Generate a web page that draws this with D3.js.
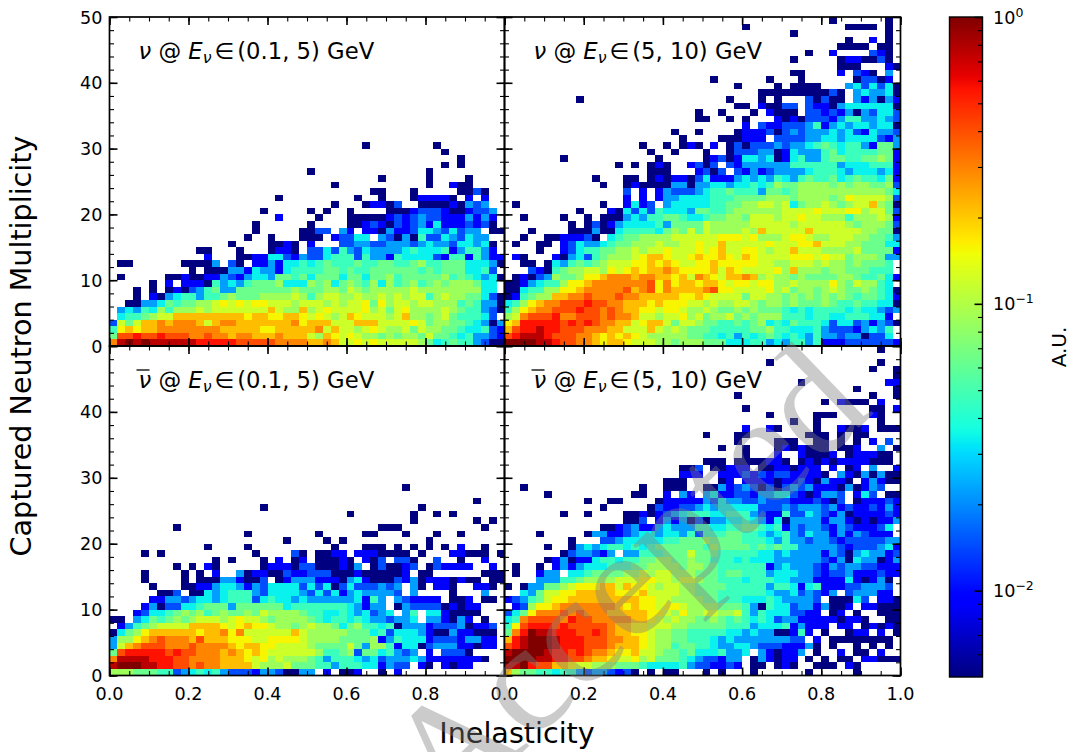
<!DOCTYPE html>
<html>
<head>
<meta charset="utf-8">
<script src="https://cdn.jsdelivr.net/npm/d3@7"></script>
<style>
body { margin: 0; background: #fff; }
text { font-family: "DejaVu Sans", sans-serif; fill: #000; }
</style>
</head>
<body>
<svg id="chart" width="1075" height="752"></svg>
<script>
// a cell is one character of a row: '.' is an empty bin, else an index into levelValues
const levelChars = '0123456789abcdef'
const levelValues = [.005, .009, .0145, .022, .034, .0463, .0637, .0875, .12, .157, .215, .296, .406, .558, .767, 1]

// rows go from multiplicity 0 upward, 50 inelasticity bins each (spaces only for reading)
const nuLow = [
  'befefeeeee edddddcccc cbbbbaaba8 8989888887 6456553200',
  '6ccdccdccc bbcbbabbaa abaaa87a98 9877676776 8665453321',
  '59a9aabbbb bbbbaaaaa9 9aaaaab8a8 8789877868 7766544521',
  '2868aababb ba8abbaaaa aaab9aaa88 8aaa888898 6776654303',
  '.4556788aa aaaaaaa9aa 99aa989878 a988878a77 678655542.',
  '.343547577 7878888888 a877a78988 8897868977 7787655320',
  '..00334656 6778989899 8887888787 8896978878 8777565330',
  '...0.10345 5355676667 7778757887 7877878788 5787766420',
  '...0.0.010 2356336666 6667666776 8767777787 777777744.',
  '.....0.1.1 1105343566 6744476746 7657475675 676777644.',
  '.0.....001 0011321344 3665646664 6646675666 6675654340',
  '.......... 0.00033143 3145555665 6556666665 656664452.',
  '.00......0 0003.20.11 3144545655 5655665567 5566644430',
  '.......... ..1...0011 4421322455 5253315444 4215515311',
  '.......... .00...0... 0110.22425 3243333454 445135531.',
  '.......... .....0.... 0010.1...2 2332233323 433244340.',
  '.......... .......0.. 0...000.12 244.320305 22432433..',
  '.......... ........0. ....0022.3 1.11031124 4324233.00',
  '.......... ........0. .....0.... 0012102123 141112120.',
  '.......... .......... .1....0... 0000012123 221113131.',
  '.......... .........0 .....0.0.. 0....00012 221001223.',
  '.......... .......... ........0. ..01102..0 00010323..',
  '.......... .......... .0........ .0..0...01 1110.1.1..',
  '.......... .......... .......... ...00...0. ....0020..',
  '.......... .......... ........0. .......... 0..100....',
  '.......... .......... .......... ....0..... 0....0....',
  '.......... .......... .....0.... .......... 0.........',
  '.......... .......... .......... .......... ..0.0.....',
  '.......... .......... .......... .......... ....0.....',
  '.......... .......... .......... .......... ..0.......',
  '.......... .......... .......... ..0....... .0........'
]
const nuHigh = [
  'ffffeedccb ba9aa98887 7677766644 4553435535 1112222221',
  'cdeeedcccb ba9a9a9877 7776655453 5456545435 332330224.',
  'acddeddccc bbbaa888a8 7876665555 5667554445 322213435.',
  '9adddddcdc dcbbaa89aa 8688766556 5674546555 4244231320',
  '78bcccdbbc ccbcbba887 8897867786 7677755545 544555441.',
  '579abbcccd ccbcbaa998 9987787667 6766654545 5554544323',
  '4579abbccc dccbbaaa9a 9998878778 8767767666 7655655440',
  '015677aabb cbbbcbbaaa aa99a98888 6887767676 7676566541',
  '004557799a bbbbbcabc9 baaaabc998 8889786776 7876676540',
  '0013455799 abbbbbbbc9 b9aa9aa989 9899778777 797687754.',
  '.010237667 99abbbabba a9a8ba98aa ba78776766 6677655641',
  '...2105677 887989a9aa ba9999a8a9 888897a777 677666555.',
  '..00.04356 56788899a9 a98899a999 9988778887 877676665.',
  '.10...1034 25677789aa 9889a99a98 a988889998 9886777633',
  '....0..124 5566778788 9888989a88 998788a888 7777866661',
  '.0..00.124 3345667778 7788988a88 888988899a 8887766644',
  '..0..00111 20.4566777 7888888999 8977789987 7888776653',
  '...0....00 0300455554 6768687777 87a88888a8 8888877660',
  '........0. 0201344445 3666687777 7888887888 8887677762',
  '..0....0.. 0.00034355 6654456677 6888788988 7775777871',
  '.........0 ...1042425 4443665567 7777788889 8889978862',
  '.0........ ..0..1412. 3444445566 7788784677 876788a760',
  '.......... .....1.1.1 3344445556 6667776777 7679888872',
  '.......... .....2.1.1 3222345565 5536656777 7777777764',
  '.......... ..0..01000 0330334434 4545766777 7676776672',
  '.......... .0...00.01 0110241113 4343543565 5645655461',
  '.......... ........00 0...1202.2 1312333345 5543444341',
  '.......... ....0.0.01 0..1202.21 3333335555 5534445551',
  '.......0.. .........0 .....01201 4434014533 5665566761',
  '.......... ........0. .0...0..02 2233014333 5645555661',
  '.......... .......0.. 0.010.1.02 0222323345 6545531663',
  '.......... .......... ..0....000 111.222233 4434444213',
  '.......... .......... .0..0....0 1112023233 3434214332',
  '.......... .......... .......... 1.21122235 1343443440',
  '.......... .......... ....00..0. 0...101022 2135533432',
  '.......... .......... ....0..0.. .0.1000.22 1213032442',
  '.......... .......... .........0 0.10022.21 1034444440',
  '.........0 .......... ........0. ..0.0...20 200.313031',
  '.......... .......... .......... ..00000000 020.343340',
  '.......... .......... .........0 ....0.0000 ...3424240',
  '.......... .......... ......0... ...0...0.. ....02201.',
  '.......... .......... .......... ......00.. ..1.210.3.',
  '.......... .......... .......... .......... ..000...10',
  '.......... .......... .......... ......0... ..0110020.',
  '.......... .......... .......... ........0. .1....210.',
  '.......... .......... .......... .......... ..0000.00.',
  '.......... .......... .......... .......... ...0..1.0.',
  '.......... .......... .......... ......0... ........0.',
  '.......... .......... .......... 0......... ...0000.0.',
  '.......... .......... .......... .......... .0......0.'
]
const nubarLow = [
  '7776665523 4545322213 320033.1.0 01..0.1... ..........',
  'efffeeddcc bcbbaaaa87 7786665535 55441322.1 0.1011....',
  'beeeedddcc bbbbaaa989 7877765355 5434233343 11111110..',
  '6cdddddcdc cbbbaba9a9 8888887556 726645323. 1.2220....',
  '38abcccbbb cbbbba9aa9 9888876666 8637751440 233311011.',
  '3779abcbbb acaaa99988 9999877776 6667135444 122213311.',
  '04679aaaaa a9aab9b888 888a877777 6664524443 100311000.',
  '.135678888 aaaa989a99 8776787764 6755450333 122230112.',
  '00.3465676 7888789887 6777765455 454332334. 331031.0..',
  '...1244567 6756766768 7777655445 434234.35. 4410000...',
  '....130224 4566636666 6645555555 43133.0322 2201011...',
  '.....11332 3443455524 5443433333 34153.3211 11.001.00.',
  '......002. 0043455532 4444324241 3433332.3. ...0...3..',
  '.....0...0 0113443132 4444242402 4222323.30 .110..110.',
  '....0....0 .000331002 .013331110 3410002130 1110100.00',
  '....0....0 .0.1..3011 0021122200 01000001.0 0......000',
  '........0. 0.10.....0 1110220001 03.020012. 021111..1.',
  '.......... ...0.0...0 .1.01.0001 0.102.220. .2..0..1..',
  '....0.0... ........0. ...20.0011 .1110000.0 ...11000.0',
  '.......... ..0....0.. ........0. ..000.0.0. 0.0.1..0..',
  '.......... .......... ..0....0.0 .......... 0.........',
  '.......... .......0.. ......0... ..00...0.. .0..0.....',
  '........0. .......... .......... ....000... .......0..',
  '.......... .......... .......... ........0. ......0.0.',
  '.......... .......... .......... 0.......0. .0.0......',
  '.......... .........0 .......... .........0 ..........',
  '.......... .......... .......... .......... ......0...',
  '.......... .......... .......... .......... ..........',
  '.......... .......... .......... .......0.. ..........'
]
const nubarHigh = [
  'a766554553 2332120.0. 00...0.0.. .0......0. ....0.....',
  'eefdccaa98 8777666544 4453221121 .00.010..0 00.10.....',
  'ffffeeddcc baa9889786 6654322133 .031011.0. 0.00.11000',
  'effffeddcd cbba99a887 6656444533 4.310113.0 ..1.00.1..',
  'cdefffeddd cccbaaa987 7566554334 4322211130 .0..0.0.0.',
  'adefffeddd cccbbaa987 7665554343 33333322.1 .00000000.',
  '6bdfeedddc cdcbaa9987 7665555544 343300151. 0..011.1.0',
  '59cdddcdcc cccbaa9988 8776666655 5344451311 1.11.01010',
  '45bccccbdc cbbbbbaa98 7877667656 5454233111 110110..00',
  '2469bbbcbc bbbaaaaa99 8797788778 5354442211 .01.0..000',
  '.12799abbb bbbba9a998 9987777666 5305442331 3001.11000',
  '12356899aa aaaaaaa998 8777766555 4445433332 .00042.110',
  '..4368899a aaaa999a88 8877666555 5554334232 13.233311.',
  '0.03366789 99aa8a9987 8877666655 5553554145 111223332.',
  '....333556 7777888998 8788766555 4555443331 111410130.',
  '.0..133.44 5666677878 8777666566 5553444332 1223111211',
  '.0..0.1313 4445556677 7767766555 5551343332 1323322111',
  '.....01301 1455455667 7667665554 5444333333 2130433013',
  '.......023 3213.33555 6668666555 5544343333 1320343312',
  '.....0..03 4345545456 6666657666 6565655333 3321222341',
  '........0. ..22344444 5566676666 5554353323 3212222233',
  '....0..... 0331123443 4435255566 5543453243 313132111.',
  '.......... ..00123113 4333554455 6654513233 213211124.',
  '.......... .....002.1 3130203344 5431403333 1331010113',
  '.......0.. 0....00101 2345554455 5321152243 2130111121',
  '.......... ..0.....02 1122343444 4422232333 2312112131',
  '.......... 0..00....0 1111132433 2232221112 102.011121',
  '.....0.... ......00.. 1.31.34112 2133442101 332.142.00',
  '..0....... .......0.. 000..00312 3202023231 11030132..',
  '.......... .......... 000....01. 1111011210 3110.13100',
  '.......... .......... ..111..111 2121221111 0.31030300',
  '.......... .......... ..002.0011 1.00110111 .1.01.3..1',
  '.......... .......... .....000.0 000110.010 101111000.',
  '.......... .......... .......... 0...1..100 01.011100.',
  '.......... .......... .......0.. 0...010100 0.001..3.0',
  '.......... .......... .........0 ....000..0 0.0.0.1.2.',
  '.......... .......... .....0...0 0.......00 0.0.00....',
  '.......... .......... .......... 1..10....0 ..1001.000',
  '.......... .......... .......... ......0..0 .......0..',
  '.......... .......... .......... ...0.....0 00....10..',
  '.......... .......... .......... 0......... ......00.1',
  '.......... .......... .......... .......... 0.1000.1..',
  '.......... .......... .........0 .......... ......0..0',
  '.......... .......... .......... .......... ....0....0',
  '.......... .......... .......... .......0.. ........11',
  '.......... .......... .......... .......... .........0',
  '.......... .......... .......... .......... ......0..0',
  '.......... .......... .......... ...0...... .......0..',
  '.......... .......... .......... .......... ..........',
  '.......... .......... .......... .......... .......0..'
]

const xMajor = [0, .2, .4, .6, .8, 1]
const xMinor = d3.range(0, 21).map(d => d * .05)
const yMajor = [0, 10, 20, 30, 40, 50]
const yMinor = d3.range(0, 26).map(d => d * 2)
const cbMajor = [1, .1, .01]
const cbMinor = [.9, .8, .7, .6, .5, .4, .3, .2, .09, .08, .07, .06, .05, .04, .03, .02, .009, .008, .007, .006]
const cbExp = ['0', '\u22121', '\u22122']

const xEdges = [109.5, 504.5, 900.5]
const yEdges = [17, 346, 675.5]
const panels = [
  { rows: nuLow, col: 0, row: 0, bar: false, range: '(0.1, 5)' },
  { rows: nuHigh, col: 1, row: 0, bar: false, range: '(5, 10)' },
  { rows: nubarLow, col: 0, row: 1, bar: true, range: '(0.1, 5)' },
  { rows: nubarHigh, col: 1, row: 1, bar: true, range: '(5, 10)' }
]

// matplotlib jet
const jetR = d3.scaleLinear().domain([0, .35, .66, .89, 1]).range([0, 0, 1, 1, .5]).clamp(true)
const jetG = d3.scaleLinear().domain([0, .125, .375, .64, .91, 1]).range([0, 0, 1, 1, 0, 0]).clamp(true)
const jetB = d3.scaleLinear().domain([0, .11, .34, .65, 1]).range([.5, 1, 1, 0, 0]).clamp(true)
const jet = t => d3.rgb(jetR(t) * 255, jetG(t) * 255, jetB(t) * 255).formatHex()
const logNorm = d3.scaleLog().domain([.005, 1]).range([0, 1]).clamp(true)
const colorScale = d => jet(logNorm(d))

const svg = d3.select('#chart')

function drawTicks(g, axis, vals, size) {
  g.call(axis.tickValues(vals).tickSize(-size).tickFormat(''))
  g.select('.domain').remove()
  g.selectAll('line').attr('stroke', '#000').attr('stroke-width', size > 5 ? 1.6 : 1.1)
}

panels.forEach(p => {
  const x0 = xEdges[p.col], x1 = xEdges[p.col + 1]
  const y0 = yEdges[p.row], y1 = yEdges[p.row + 1]
  const x = d3.scaleLinear().domain([0, 1]).range([x0, x1])
  const y = d3.scaleLinear().domain([0, 50]).range([y1, y0])
  const cells = []
  p.rows.forEach((r, v) => {
    r.replace(/ /g, '').split('').forEach((c, k) => {
      if (c !== '.') cells.push({ k, v, value: levelValues[levelChars.indexOf(c)] })
    })
  })
  const g = svg.append('g')
  g.selectAll('rect').data(cells).enter().append('rect')
    .attr('x', d => x(d.k * .02))
    .attr('y', d => y(d.v + 1))
    .attr('width', x(.02) - x(0))
    .attr('height', y(0) - y(1))
    .attr('shape-rendering', 'crispEdges')
    .style('fill', d => colorScale(d.value))

  // ticks point inward on all four sides
  const axes = [
    [d3.axisBottom(x), 0, y1, xMajor, xMinor], [d3.axisTop(x), 0, y0, xMajor, xMinor],
    [d3.axisLeft(y), x0, 0, yMajor, yMinor], [d3.axisRight(y), x1, 0, yMajor, yMinor]
  ]
  axes.forEach(a => {
    drawTicks(svg.append('g').attr('transform', `translate(${a[1]},${a[2]})`), a[0], a[4], 4.5)
    drawTicks(svg.append('g').attr('transform', `translate(${a[1]},${a[2]})`), a[0], a[3], 8)
  })

  if (p.row === 1) {
    const labels = p.col === 0 ? xMajor.slice(0, 5) : xMajor
    svg.append('g').selectAll('text').data(labels).enter().append('text')
      .attr('x', d => x(d)).attr('y', y1 + 24)
      .attr('text-anchor', 'middle').style('font-size', '17.6px')
      .text(d => d.toFixed(1))
  }
  if (p.col === 0) {
    const labels = p.row === 0 ? yMajor : yMajor.slice(0, 5)
    svg.append('g').selectAll('text').data(labels).enter().append('text')
      .attr('x', x0 - 7).attr('y', d => y(d) + 6.5)
      .attr('text-anchor', 'end').style('font-size', '17.6px')
      .text(d => d)
  }

  svg.append('rect').attr('x', x0).attr('y', y0)
    .attr('width', x1 - x0).attr('height', y1 - y0)
    .attr('fill', 'none').attr('stroke', '#000').attr('stroke-width', 1.7)

  // panel label, mathtext-like
  const lx = x0 + 29, ly = y0 + 42
  const t = svg.append('text').attr('x', lx).attr('y', ly).style('font-size', '22.7px')
  t.append('tspan').style('font-style', 'italic').text('\u03bd')
  t.append('tspan').text(' @ ')
  t.append('tspan').style('font-style', 'italic').text('E')
  t.append('tspan').style('font-style', 'italic').style('font-size', '15.8px').attr('dy', 4).text('\u03bd')
  t.append('tspan').attr('dy', -4).attr('dx', 3).text('\u2208')
  t.append('tspan').attr('dx', 3).text(p.range + ' GeV')
  if (p.bar) {
    svg.append('line').attr('x1', lx - 2).attr('x2', lx + 11)
      .attr('y1', ly - 18).attr('y2', ly - 18)
      .attr('stroke', '#000').attr('stroke-width', 1.3)
  }
})

svg.append('text').attr('transform', 'translate(31,346) rotate(-90)')
  .attr('text-anchor', 'middle').style('font-size', '28.6px').text('Captured Neutron Multiplicity')
svg.append('text').attr('x', 517).attr('y', 743)
  .attr('text-anchor', 'middle').style('font-size', '28.6px').text('Inelasticity')

// colorbar
const cb = d3.scaleLog().domain([.005, 1]).range([677, 17])
const cbStops = d3.range(0, 101).map(d => d / 100)
const grad = svg.append('defs').append('linearGradient')
  .attr('id', 'jet').attr('x1', 0).attr('x2', 0).attr('y1', 1).attr('y2', 0)
grad.selectAll('stop').data(cbStops).enter().append('stop')
  .attr('offset', d => d).attr('stop-color', d => jet(d))
svg.append('rect').attr('x', 949.5).attr('y', 17).attr('width', 33).attr('height', 660)
  .attr('fill', 'url(#jet)').attr('stroke', '#000').attr('stroke-width', 1.4)
drawTicks(svg.append('g').attr('transform', 'translate(982.5,0)'), d3.axisRight(cb), cbMinor, 4.5)
drawTicks(svg.append('g').attr('transform', 'translate(982.5,0)'), d3.axisRight(cb), cbMajor, 8)
cbMajor.forEach((d, i) => {
  const t = svg.append('text').attr('x', 993).attr('y', cb(d) + 6.5).style('font-size', '17.6px')
  t.append('tspan').text('10')
  t.append('tspan').attr('dy', -7).style('font-size', '12.5px').text(cbExp[i])
})
svg.append('text').attr('transform', 'translate(1066,347) rotate(-90)')
  .attr('text-anchor', 'middle').style('font-size', '20px').text('A.U.')

// journal stamp across the lower panels
svg.append('text').attr('transform', 'translate(627,582) rotate(-44)')
  .attr('text-anchor', 'middle').attr('dy', 50)
  .style('font-family', '"Liberation Serif", serif').style('font-size', '157px')
  .style('fill', '#808080').style('opacity', .4).text('Accepted')
</script>
</body>
</html>
